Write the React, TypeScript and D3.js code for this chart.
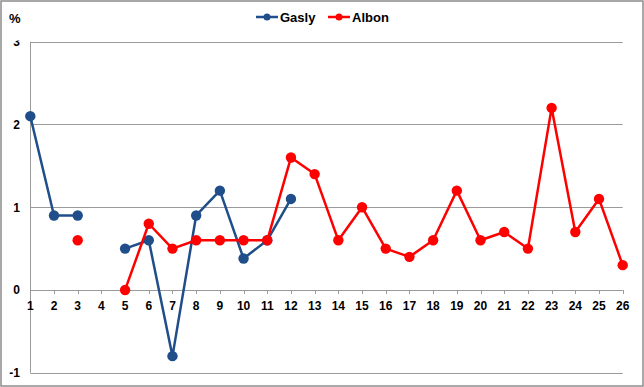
import React from "react";
import * as d3 from "d3";

const races = d3.range(1, 27);
const gasly: (number | null)[] = [2.1, 0.9, 0.9, null, 0.5, 0.6, -0.8, 0.9, 1.2, 0.38, 0.6, 1.1, null, null, null, null, null, null, null, null, null, null, null, null, null, null];
const albon: (number | null)[] = [null, null, 0.6, null, 0.0, 0.8, 0.5, 0.6, 0.6, 0.6, 0.6, 1.6, 1.4, 0.6, 1.0, 0.5, 0.4, 0.6, 1.2, 0.6, 0.7, 0.5, 2.2, 0.7, 1.1, 0.3];
const yTicks = [-1, 0, 1, 2, 3];
const seriesNames = ["Gasly", "Albon"];
const seriesColors = ["#1F4E8A", "#FF0000"];

export default function App() {
  const W = 644, H = 387;
  const x = d3.scaleLinear().domain([1, 26]).range([30.3, 622.7]);
  const y = d3.scaleLinear().domain([-1, 3]).range([372.7, 41.7]);
  const font = "'Liberation Sans', Arial, sans-serif";
  const series = [gasly, albon];
  const mkLine = (vals: (number | null)[]) =>
    d3.line<number>()
      .defined((_, i) => vals[i] !== null)
      .x((r) => x(r))
      .y((_, i) => y(vals[i] as number))(races) || "";

  return (
    <svg width={W} height={H} style={{ position: "fixed", left: 0, top: 0, background: "#fff" }} fontFamily={font}>
      <defs>
        <clipPath id="ylabclip">
          <rect x={0} y={40.5} width={30} height={H} />
        </clipPath>
      </defs>
      <rect x={1} y={1} width={W - 2} height={H - 2} fill="#fff" stroke="#8c8c8c" strokeWidth={1.5} />
      {yTicks.map((t) => (
        <line key={"g" + t} x1={x(1)} x2={x(26)} y1={Math.round(y(t)) + 0.5} y2={Math.round(y(t)) + 0.5} stroke="#9a9a9a" strokeWidth={1} />
      ))}
      <line x1={30.5} x2={30.5} y1={y(3)} y2={y(-1)} stroke="#9a9a9a" strokeWidth={1} />
      {races.map((r) => (
        <line key={"t" + r} x1={Math.round(x(r)) + 0.5} x2={Math.round(x(r)) + 0.5} y1={y(0)} y2={y(0) + 4} stroke="#9a9a9a" strokeWidth={1} />
      ))}
      <g clipPath="url(#ylabclip)">
        {yTicks.map((t) => (
          <text key={"yl" + t} x={20} y={y(t) + 4.5} textAnchor="end" fontSize={12} fontWeight="bold" fill="#000">
            {t}
          </text>
        ))}
      </g>
      {races.map((r) => (
        <text key={"xl" + r} x={x(r)} y={y(0) + 20} textAnchor="middle" fontSize={12} fontWeight="bold" fill="#000">
          {r}
        </text>
      ))}
      <text x={9} y={23} fontSize={13} fontWeight="bold" fill="#000">%</text>
      {series.map((vals, si) => (
        <g key={"s" + si}>
          <path d={mkLine(vals)} fill="none" stroke={seriesColors[si]} strokeWidth={2.5} strokeLinejoin="round" />
          {races.map((r, i) =>
            vals[i] === null ? null : (
              <circle key={r} cx={x(r)} cy={y(vals[i] as number)} r={5.2} fill={seriesColors[si]} />
            )
          )}
        </g>
      ))}
      {seriesNames.map((n, i) => {
        const lx = 256 + i * 72;
        return (
          <g key={"lg" + i}>
            <line x1={lx} x2={lx + 22} y1={17} y2={17} stroke={seriesColors[i]} strokeWidth={2.5} />
            <circle cx={lx + 11} cy={17} r={3.5} fill={seriesColors[i]} />
            <text x={lx + 24} y={22} fontSize={13} fontWeight="bold" fill="#000">{n}</text>
          </g>
        );
      })}
    </svg>
  );
}
